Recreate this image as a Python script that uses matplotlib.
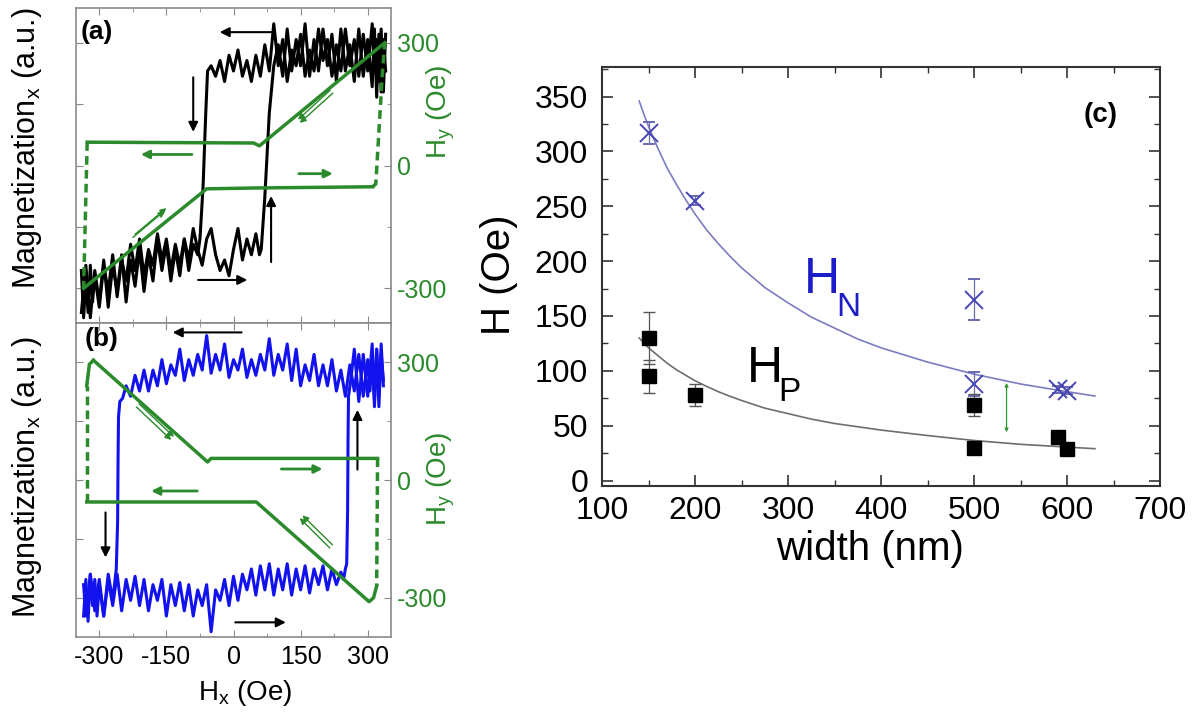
import matplotlib
matplotlib.use("Agg")
import matplotlib.pyplot as plt
from matplotlib.ticker import MultipleLocator, FixedLocator

plt.rcParams["font.family"] = ["Liberation Sans", "DejaVu Sans"]
plt.rcParams["mathtext.fontset"] = "custom"
plt.rcParams["mathtext.rm"] = "Liberation Sans"
plt.rcParams["mathtext.it"] = "Liberation Sans:italic"
plt.rcParams["axes.unicode_minus"] = False
plt.rcParams["xtick.direction"] = "in"
plt.rcParams["ytick.direction"] = "in"

GREEN = "#2b8a2b"
BLUE = "#1212ee"
FRAME = "#8a8a8a"

# ---------------- panel (a): Mx trace (black), Hx sweeps ----------------
a_dn_hx = [340, 335, 330, 325, 320, 315, 310,
           300, 290, 280, 270, 260, 250, 240, 230, 220, 210,
           200, 190, 180, 170, 160, 150, 140, 130, 120, 110,
           100, 90, 80, 70, 60, 50, 40, 30, 20, 10,
           0, -10, -20, -30, -40, -50,
           -58, -62, -68, -75, -80,
           -90, -100, -110, -120, -130, -140, -150, -160, -170, -180,
           -190, -200, -210, -220, -230, -240, -250, -260, -270, -280,
           -290, -300, -310, -320, -330, -340]
a_dn_m = [1.25, 0.7, 1.3, 0.8, 1.2, 0.95, 1.35,
          0.9, 1.25, 0.85, 1.2, 0.95, 1.3, 0.9, 1.15, 0.85, 1.2,
          1.0, 1.3, 0.9, 1.1, 0.85, 1.25, 0.95, 1.1, 0.8, 1.2,
          0.95, 1.35, 0.9, 1.15, 0.85, 1.05, 0.8, 1.0, 0.85, 1.1,
          0.9, 1.05, 0.8, 1.0, 0.85, 0.95,
          0.9, 0.5, -0.2, -0.7, -0.85,
          -0.75, -1.0, -0.7, -1.05, -0.8, -1.1, -0.75, -1.0, -0.7, -1.1,
          -0.85, -1.2, -0.8, -1.15, -0.9, -1.3, -0.85, -1.2, -0.95, -1.35,
          -0.9, -1.3, -1.0, -1.45, -0.95, -1.4]
a_up_hx = [-340, -335, -330, -325, -320, -315, -310,
           -300, -290, -280, -270, -260, -250, -240, -230, -220, -210,
           -200, -190, -180, -170, -160, -150, -140, -130, -120, -110,
           -100, -90, -80, -70, -60, -50, -40, -30, -20, -10,
           0, 10, 20, 30, 40, 50,
           58, 62, 70, 80, 90,
           100, 110, 120, 130, 140, 150, 160, 170, 180, 190,
           200, 210, 220, 230, 240, 250, 260, 270, 280, 290, 300,
           310, 315, 320, 325, 330, 335, 340]
a_up_m = [-1.0, -1.45, -1.1, -1.4, -0.95, -1.3, -1.05,
          -1.35, -0.95, -1.2, -0.85, -1.25, -0.9, -1.1, -0.75, -1.0, -0.7,
          -1.05, -0.8, -0.95, -0.65, -0.9, -0.7, -1.0, -0.75, -0.95, -0.7,
          -0.9, -0.6, -0.8, -0.95, -0.7, -0.6, -0.85, -1.0, -0.9, -1.05,
          -0.8, -0.6, -0.9, -0.7, -0.85, -0.65,
          -0.85, -0.8, -0.3, 0.5, 0.95,
          1.15, 0.85, 1.3, 0.9, 1.2, 0.95, 1.35, 0.85, 1.2, 0.9,
          1.3, 0.95, 1.25, 0.8, 1.3, 0.9, 1.15, 0.8, 1.3, 0.85, 1.2,
          0.75, 1.3, 0.65, 1.25, 0.7, 1.2, 0.9]

# panel (a): Hy loop (green)
a_hy1_hx = [-335, -60, 45, 311]
a_hy1 = [-300, -57, -55, -52]
a_hy1d_hx = [311, 318, 333, 338]
a_hy1d = [-52, -45, 230, 300]
a_hy2_hx = [338, 58, 45, -327]
a_hy2 = [300, 48, 55, 57]
a_hy2d_hx = [-327, -335]
a_hy2d = [57, -300]

# ---------------- panel (b): Mx trace (blue) ----------------
b_dn_hx = [335, 330, 325, 320, 315, 310, 305,
           300, 290, 280, 270, 260, 250, 240, 230, 220, 210,
           200, 190, 180, 170, 160, 150, 140, 130, 120, 110,
           100, 90, 80, 70, 60, 50, 40, 30, 20, 10,
           0, -10, -20, -30, -40, -50, -60, -70, -80, -90,
           -100, -110, -120, -130, -140, -150, -160, -170, -180, -190,
           -200, -210, -220, -230, -240,
           -248, -254, -257, -258, -259, -262,
           -270, -280, -290, -300, -310, -320, -330, -335]
b_dn_m = [0.9, 1.3, 0.7, 1.25, 0.75, 1.2, 0.85,
          1.15, 0.8, 1.2, 0.85, 1.1, 0.8, 1.05, 0.85, 1.15, 0.9,
          1.1, 0.9, 1.2, 0.95, 1.1, 0.9, 1.25, 0.95, 1.3, 1.05,
          1.2, 1.0, 1.35, 1.05, 1.2, 1.0, 1.15, 0.98, 1.25, 1.05,
          1.15, 0.98, 1.3, 1.05, 1.2, 1.02, 1.38, 1.05, 1.2, 1.0,
          1.15, 0.95, 1.25, 1.0, 1.1, 0.92, 1.15, 0.9, 1.05, 0.85,
          1.05, 0.85, 1.0, 0.8, 0.9,
          0.78, 0.75, 0.6, 0.2, -0.4, -0.85,
          -1.15, -0.9, -1.3, -0.95, -1.25, -0.9, -1.3, -1.0]
b_up_hx = [-335, -330, -325, -320, -315, -310, -305,
           -300, -290, -280, -270, -260, -250, -240, -230, -220, -210,
           -200, -190, -180, -170, -160, -150, -140, -130, -120, -110,
           -100, -90, -80, -70, -60, -50, -40, -30, -20, -10,
           0, 10, 20, 30, 40, 50, 60, 70, 80, 90,
           100, 110, 120, 130, 140, 150, 160, 170, 180, 190,
           200, 210, 220, 230, 240,
           246, 250, 253, 255, 256, 257,
           262, 270, 280, 290, 300, 310, 315, 320, 325, 330, 335]
b_up_m = [-1.3, -0.95, -1.35, -0.9, -1.2, -0.95, -1.3,
          -1.0, -1.3, -0.95, -1.2, -0.9, -1.25, -0.95, -1.15, -0.92, -1.2,
          -0.95, -1.25, -1.0, -1.15, -0.95, -1.3, -1.0, -1.2, -0.98, -1.25,
          -1.0, -1.3, -1.05, -1.2, -1.0, -1.45, -1.05, -1.15, -0.95, -1.2,
          -0.92, -1.15, -0.9, -1.05, -0.85, -1.1, -0.82, -1.05, -0.8, -1.1,
          -0.85, -1.05, -0.8, -1.1, -0.85, -1.05, -0.82, -1.08, -0.85, -1.0,
          -0.82, -1.05, -0.85, -1.0, -0.88,
          -0.95, -0.85, -0.8, -0.3, 0.4, 0.8,
          0.95, 1.25, 0.75, 1.2, 0.8, 1.3, 0.7, 1.25, 0.8, 1.2, 0.95]

# panel (b): Hy loop (green)
b_hy1_hx = [-313, -58, -50, 322]
b_hy1 = [305, 46, 55, 55]
b_hy1d_hx = [322, 320]
b_hy1d = [55, -270]
b_hy2_hx = [320, 313, 303, 51, -328]
b_hy2 = [-270, -300, -310, -56, -56]
b_hy2d_hx = [-328, -328]
b_hy2d = [-56, 240]
b_hy3_hx = [-328, -322, -313]
b_hy3 = [240, 295, 305]

# ---------------- panel (c): switching fields vs width ----------------
n_width = [150, 200, 500, 500, 590, 600]
n_field = [317, 255, 165, 88, 83, 82]
n_err = [10, 4, 19, 11, 3, 3]
p_width = [150, 150, 200, 500, 500, 590, 600]
p_field = [130, 95, 78, 69, 30, 40, 29]
p_err = [24, 15, 10, 10, 3, 3, 2]
fit_width = [140, 145, 150, 160, 170, 180, 190, 200, 212, 225, 237, 250,
             275, 300, 325, 350, 375, 400, 450, 500, 550, 600, 630]
n_fit = [346, 334, 323, 303, 285, 270, 256, 243, 229, 216, 205, 194,
         176, 162, 149, 139, 129, 121, 108, 97, 88, 81, 77]
p_fit = [130, 125.5, 121, 114, 107, 101, 96, 91, 86, 81, 77, 73,
         66, 61, 56, 52, 49, 46, 41, 36.5, 33, 30.5, 29]

W, H = 1199, 718
fig = plt.figure(figsize=(W / 100, H / 100), dpi=100)


def px_box(x0, y0, x1, y1):
    return [x0 / W, 1 - y1 / H, (x1 - x0) / W, (y1 - y0) / H]


def arrow(ax, tail, head, color, lw=1.5, ms=14):
    ax.annotate("", xy=head, xytext=tail,
                arrowprops=dict(arrowstyle="-|>", color=color, lw=lw,
                                mutation_scale=ms, shrinkA=0, shrinkB=0))


def loop_panel(ax, hy_lim):
    ax.set_xlim(-352, 352)
    ax.set_ylim(-1.5, 1.5)
    ax.xaxis.set_major_locator(MultipleLocator(150))
    ax.xaxis.set_minor_locator(MultipleLocator(75))
    m = 150 / hy_lim * 1.5
    ax.yaxis.set_major_locator(FixedLocator([-2 * m, -m, 0, m, 2 * m]))
    ax.tick_params(axis="both", which="both", top=True, bottom=True,
                   left=True, right=False, labelleft=False, color=FRAME)
    ax.tick_params(which="major", length=5)
    ax.tick_params(which="minor", length=3)
    for s in ax.spines.values():
        s.set_color(FRAME)
        s.set_linewidth(1.2)
    tw = ax.twinx()
    tw.set_ylim(-hy_lim, hy_lim)
    tw.yaxis.set_major_locator(FixedLocator([-300, 0, 300]))
    tw.yaxis.set_minor_locator(FixedLocator([-150, 150]))
    tw.tick_params(axis="y", which="both", colors=FRAME, labelcolor=GREEN,
                   labelsize=18, pad=4)
    tw.tick_params(which="major", length=5)
    tw.tick_params(which="minor", length=3)
    for s in tw.spines.values():
        s.set_visible(False)
    tw.set_ylabel(r"H$_\mathrm{y}$ (Oe)", color=GREEN, fontsize=20)
    ax.set_ylabel(r"Magnetization$_\mathrm{x}$ (a.u.)", fontsize=22)
    return tw


# ---- (a)
axA = fig.add_axes(px_box(76, 8, 391, 323))
twA = loop_panel(axA, 385)
axA.tick_params(labelbottom=False)
axA.plot(a_dn_hx, a_dn_m, color="k", lw=2.2)
axA.plot(a_up_hx, a_up_m, color="k", lw=2.2)
twA.plot(a_hy1_hx, a_hy1, color=GREEN, lw=2.5)
twA.plot(a_hy2_hx, a_hy2, color=GREEN, lw=2.5)
twA.plot(a_hy1d_hx, a_hy1d, color=GREEN, lw=2.5, ls=(0, (2.5, 1.5)))
twA.plot(a_hy2d_hx, a_hy2d, color=GREEN, lw=2.5, ls=(0, (2.5, 1.5)))
arrow(axA, (86, 1.27), (-31, 1.27), "k")
arrow(axA, (-79, -1.09), (31, -1.09), "k")
arrow(axA, (-90, 0.84), (-90, 0.32), "k")
arrow(axA, (84, -0.92), (84, -0.29), "k")
arrow(twA, (-93, 27), (-207, 27), GREEN, lw=2, ms=12)
arrow(twA, (146, -20), (222, -20), GREEN, lw=2, ms=12)
arrow(twA, (-225, -176), (-154, -111), GREEN, lw=1.0, ms=9)
arrow(twA, (-220, -168), (-150, -104), GREEN, lw=1.0, ms=9)
arrow(twA, (222, 177), (148, 104), GREEN, lw=1.0, ms=9)
arrow(twA, (216, 184), (144, 112), GREEN, lw=1.0, ms=9)
axA.yaxis.set_label_coords(-0.10, 0.556)
twA.yaxis.set_label_coords(1.108, 0.67)
fig.text(97 / W, 1 - 32 / H, "(a)", ha="center", va="center",
         fontsize=19, fontweight="bold")

# ---- (b)
axB = fig.add_axes(px_box(76, 323, 391, 637))
twB = loop_panel(axB, 400)
axB.tick_params(axis="x", labelsize=18, pad=6)
axB.plot(b_dn_hx, b_dn_m, color=BLUE, lw=2.2)
axB.plot(b_up_hx, b_up_m, color=BLUE, lw=2.2)
twB.plot(b_hy1_hx, b_hy1, color=GREEN, lw=2.5)
twB.plot(b_hy2_hx, b_hy2, color=GREEN, lw=2.5)
twB.plot(b_hy3_hx, b_hy3, color=GREEN, lw=2.5)
twB.plot(b_hy1d_hx, b_hy1d, color=GREEN, lw=2.5, ls=(0, (2.5, 1.5)))
twB.plot(b_hy2d_hx, b_hy2d, color=GREEN, lw=2.5, ls=(0, (2.5, 1.5)))
arrow(axB, (18, 1.41), (-136, 1.41), "k")
arrow(axB, (4, -1.36), (117, -1.36), "k")
arrow(axB, (-286, -0.31), (-286, -0.74), "k")
arrow(axB, (277, 0.1), (277, 0.67), "k")
arrow(twB, (-81, -28), (-184, -28), GREEN, lw=2, ms=12)
arrow(twB, (107, 28), (199, 28), GREEN, lw=2, ms=12)
arrow(twB, (-217, 186), (-139, 102), GREEN, lw=1.0, ms=9)
arrow(twB, (-211, 194), (-133, 110), GREEN, lw=1.0, ms=9)
arrow(twB, (215, -173), (148, -97), GREEN, lw=1.0, ms=9)
arrow(twB, (221, -165), (154, -90), GREEN, lw=1.0, ms=9)
axB.yaxis.set_label_coords(-0.10, 0.508)
twB.yaxis.set_label_coords(1.108, 0.505)
fig.text(102 / W, 1 - 339 / H, "(b)", ha="center", va="center",
         fontsize=19, fontweight="bold")
fig.text(245 / W, 1 - 693 / H, r"H$_\mathrm{x}$ (Oe)", ha="center",
         va="center", fontsize=20)

# ---- (c)
axC = fig.add_axes(px_box(602, 67, 1160, 486))
axC.plot(fit_width, n_fit, color="#7c7cc0", lw=1.2)
axC.plot(fit_width, p_fit, color="#6e6e6e", lw=1.2)
axC.errorbar(n_width, n_field, yerr=n_err, fmt="x", color="#4646b4",
             ms=13, mew=1.4, elinewidth=0.9, capsize=4, ecolor="#6a6ab4")
axC.errorbar(p_width, p_field, yerr=p_err, fmt="s", color="k", ms=10,
             elinewidth=0.9, capsize=4, ecolor="#555555")
axC.annotate("", xy=(535, 89), xytext=(535, 44),
             arrowprops=dict(arrowstyle="<|-|>", color="#2e9a2e", lw=0.9,
                             mutation_scale=5, shrinkA=0, shrinkB=0))
axC.set_xlim(100, 700)
axC.set_ylim(-5, 377)
axC.xaxis.set_major_locator(MultipleLocator(100))
axC.xaxis.set_minor_locator(MultipleLocator(50))
axC.yaxis.set_major_locator(MultipleLocator(50))
axC.yaxis.set_minor_locator(MultipleLocator(25))
axC.tick_params(axis="both", which="both", top=True, right=True,
                labelsize=23, color="#333333")
axC.tick_params(which="major", length=8, width=1.2)
axC.tick_params(which="minor", length=4, width=1.0)
axC.tick_params(axis="y", pad=10)
axC.tick_params(axis="x", pad=7)
for s in axC.spines.values():
    s.set_color("#333333")
    s.set_linewidth(1.5)
axC.set_xlabel("width (nm)", fontsize=29)
axC.set_ylabel("H (Oe)", fontsize=29)
axC.xaxis.set_label_coords(0.480, -0.105)
axC.yaxis.set_label_coords(-0.15, 0.504)
axC.text(336, 183, "H", color="#1c1cc8", fontsize=36, ha="center", va="center")
axC.text(365, 158, "N", color="#1c1cc8", fontsize=24, ha="center", va="center")
axC.text(275, 102, "H", color="k", fontsize=36, ha="center", va="center")
axC.text(302, 80, "P", color="k", fontsize=24, ha="center", va="center")
fig.text(1101 / W, 1 - 115 / H, "(c)", ha="center", va="center",
         fontsize=20, fontweight="bold")

fig.savefig("out.png", dpi=100)
